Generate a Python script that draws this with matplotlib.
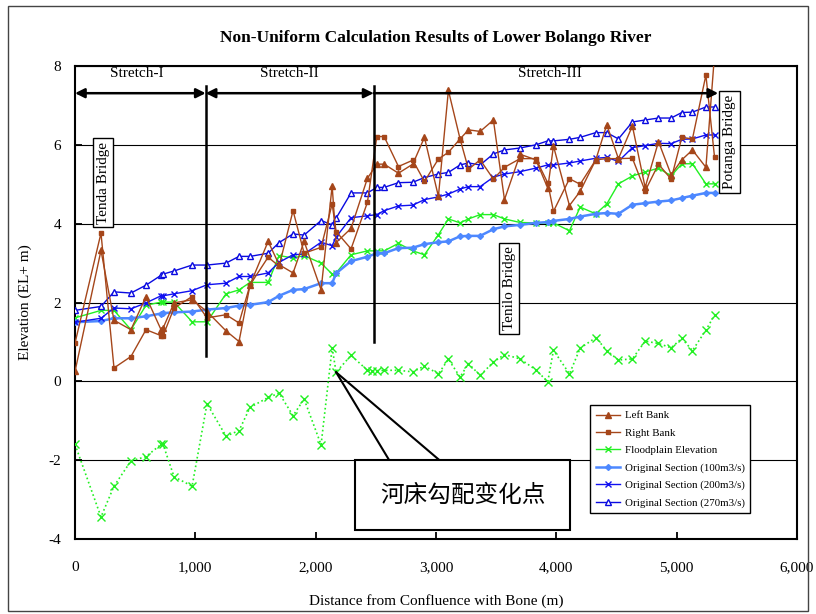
import matplotlib
matplotlib.use("Agg")
import matplotlib.pyplot as plt
from matplotlib.patches import Rectangle
from matplotlib.ticker import FuncFormatter
import numpy as np

plt.rcParams['font.family'] = ['Liberation Serif', 'DejaVu Serif']
plt.rcParams['axes.unicode_minus'] = False

# cross-section distances (m)
dist = [0, 216, 324, 465, 590, 715, 732, 823, 973, 1097,
        1255, 1363, 1455, 1605, 1696, 1812, 1904, 2045, 2137, 2170,
        2294, 2430, 2508, 2569, 2688, 2807, 2904, 3020, 3103, 3200,
        3270, 3367, 3477, 3569, 3699, 3830, 3929, 3976, 4109, 4198,
        4328, 4419, 4516, 4632, 4738, 4849, 4954, 5043, 5131, 5243,
        5315]

left_bank = [0.25, 3.32, 1.55, 1.31, 2.15, 1.31, 1.35, 1.99, 2.07, 1.77,
             1.28, 1.01, 2.45, 3.55, 2.96, 2.75, 3.55, 2.32, 4.96, 3.52,
             3.88, 5.15, 5.51, 5.51, 5.28, 5.51, 6.19, 4.69, 7.38, 6.15,
             6.38, 6.34, 6.63, 4.61, 5.76, 5.62, 4.90, 5.97, 4.46, 4.82,
             5.62, 6.51, 5.65, 6.48, 4.92, 6.08, 5.24, 5.62, 5.87, 5.43,
             8.30]

right_bank = [0.97, 3.76, 0.34, 0.63, 1.31, 1.16, 1.16, 1.86, 2.15, 1.61,
              1.69, 1.48, 2.45, 3.15, 2.92, 4.33, 3.25, 3.40, 4.50, 3.80,
              3.36, 4.54, 6.21, 6.21, 5.45, 5.61, 5.07, 5.64, 5.81, 6.15,
              5.38, 5.62, 5.13, 5.43, 5.65, 5.65, 5.03, 4.31, 5.14, 5.00,
              5.62, 5.65, 5.65, 5.66, 4.83, 5.51, 5.13, 6.19, 6.15, 7.77,
              5.68]

floodplain = [1.61, 1.80, 1.80, 1.31, 1.93, 2.01, 2.01, 2.01, 1.51, 1.51,
              2.22, 2.32, 2.51, 2.51, 3.19, 3.13, 3.19, 3.00, 2.72, 2.75,
              3.21, 3.31, 3.31, 3.31, 3.50, 3.31, 3.21, 3.72, 4.12, 4.02,
              4.12, 4.23, 4.23, 4.12, 4.03, 4.02, 4.02, 4.02, 3.82, 4.42,
              4.25, 4.50, 5.01, 5.21, 5.31, 5.41, 5.21, 5.52, 5.52, 5.01,
              5.01]

q100 = [1.50, 1.53, 1.60, 1.60, 1.65, 1.72, 1.73, 1.75, 1.77, 1.82,
        1.86, 1.92, 1.94, 2.01, 2.17, 2.32, 2.34, 2.49, 2.49, 2.74,
        3.05, 3.16, 3.25, 3.25, 3.38, 3.39, 3.48, 3.53, 3.55, 3.68,
        3.69, 3.69, 3.86, 3.93, 3.97, 4.02, 4.04, 4.07, 4.12, 4.18,
        4.25, 4.27, 4.25, 4.48, 4.52, 4.56, 4.59, 4.65, 4.71, 4.78,
        4.78]

q200 = [1.50, 1.60, 1.86, 1.84, 1.99, 2.17, 2.17, 2.22, 2.30, 2.45,
        2.49, 2.66, 2.66, 2.75, 3.02, 3.21, 3.23, 3.53, 3.44, 3.66,
        4.15, 4.20, 4.23, 4.33, 4.45, 4.47, 4.61, 4.68, 4.75, 4.88,
        4.94, 4.94, 5.18, 5.26, 5.32, 5.41, 5.49, 5.49, 5.54, 5.59,
        5.66, 5.68, 5.58, 5.93, 5.98, 6.04, 6.03, 6.14, 6.15, 6.25,
        6.25]

q270 = [1.80, 1.90, 2.27, 2.24, 2.44, 2.69, 2.72, 2.80, 2.95, 2.95,
        3.00, 3.17, 3.17, 3.25, 3.52, 3.74, 3.71, 4.08, 3.97, 4.14,
        4.78, 4.78, 4.92, 4.92, 5.04, 5.05, 5.17, 5.26, 5.30, 5.49,
        5.54, 5.49, 5.77, 5.87, 5.92, 6.00, 6.10, 6.10, 6.14, 6.19,
        6.31, 6.31, 6.15, 6.58, 6.63, 6.68, 6.68, 6.82, 6.83, 6.96,
        6.96]

# river bed (dotted, not in legend)
bed_dist = [0, 216, 324, 465, 590, 715, 732, 823, 973, 1097,
            1255, 1363, 1455, 1605, 1696, 1812, 1904, 2045, 2137, 2170,
            2294, 2430, 2466, 2508, 2569, 2688, 2807, 2904, 3020, 3103,
            3200, 3270, 3367, 3477, 3569, 3699, 3830, 3929, 3976, 4109,
            4198, 4328, 4419, 4516, 4632, 4738, 4849, 4954, 5043, 5131,
            5243, 5315]
bed = [-1.60, -3.44, -2.66, -2.02, -1.91, -1.60, -1.60, -2.42, -2.66, -0.57,
       -1.39, -1.25, -0.66, -0.41, -0.30, -0.87, -0.45, -1.61, 0.85, 0.23,
       0.66, 0.28, 0.26, 0.27, 0.28, 0.28, 0.24, 0.39, 0.19, 0.56,
       0.11, 0.45, 0.15, 0.49, 0.68, 0.57, 0.29, -0.01, 0.79, 0.19,
       0.84, 1.11, 0.78, 0.54, 0.57, 1.02, 0.96, 0.85, 1.09, 0.78,
       1.30, 1.68]

stretch_bounds = [0, 1086, 2481, 5345]
stretch_names = ["Stretch-I", "Stretch-II", "Stretch-III"]
stretch_bottom = [0.65, 1.0]

brown = '#A5461A'
green = '#22F022'

fig = plt.figure(figsize=(8.16, 6.14), dpi=100)
ax = fig.add_axes([75 / 816, 75 / 614, 722 / 816, 473 / 614])

ax.plot(bed_dist, bed, color=green, ls=':', lw=1.2, marker='x', ms=6, mew=1.0, zorder=3)
ax.plot(dist, left_bank, color=brown, lw=1.0, marker='^', ms=4, label='Left Bank', zorder=5)
ax.plot(dist, right_bank, color=brown, lw=1.0, marker='s', ms=3.5, label='Right Bank', zorder=5)
ax.plot(dist, floodplain, color=green, lw=1.0, marker='x', ms=5, mew=1.0,
        label='Floodplain Elevation', zorder=4)
ax.plot(dist, q100, color='#4D88FF', lw=1.8, marker='D', ms=3, label='Original Section (100m3/s)', zorder=4)
ax.plot(dist, q200, color='#1010F0', lw=1.0, marker='x', ms=4.5, mew=1.0,
        label='Original Section (200m3/s)', zorder=4)
ax.plot(dist, q270, color='#0A0AE0', lw=1.0, marker='^', ms=4.5, mfc='white',
        label='Original Section (270m3/s)', zorder=4)

ax.set_xlim(0, 6000)
ax.set_ylim(-4, 8)
ax.set_xticks(range(0, 6001, 1000))
ax.set_yticks(range(-4, 9, 2))
ax.xaxis.set_major_formatter(FuncFormatter(lambda v, p: f"{int(v):,}"))
ax.tick_params(direction='in', length=5, width=1.3, labelsize=11)
ax.tick_params(axis='x', pad=16)
ax.tick_params(axis='y', pad=10)
ax.grid(axis='y', color='black', lw=0.8)
ax.set_axisbelow(True)
for s in ax.spines.values():
    s.set_linewidth(1.5)

ax.set_title("Non-Uniform Calculation Results of Lower Bolango River",
             fontsize=12.5, fontweight='bold', pad=17)
ax.set_xlabel("Distance from Confluence with Bone (m)", fontsize=11, labelpad=14)
ax.set_ylabel("Elevation (EL+ m)", fontsize=11, labelpad=12)

# stretch boundaries and arrows
arrow_y = 7.31
for xb, yb in zip(stretch_bounds[1:3], stretch_bottom):
    ax.plot([xb, xb], [7.5, yb], color='black', lw=1.8, zorder=6)
for i, name in enumerate(stretch_names):
    a, b = stretch_bounds[i], stretch_bounds[i + 1]
    style = '<|-|>' if i < 2 else '<|-'
    ax.annotate('', xy=(a, arrow_y), xytext=(b, arrow_y),
                arrowprops=dict(arrowstyle=style, color='black', lw=1.8,
                                mutation_scale=14, shrinkA=0, shrinkB=0), zorder=6)
    ax.text((a + b) / 2 - (30 if i == 0 else 0) + (30 if i == 2 else 0), 7.82, name,
            ha='center', va='center', fontsize=11)

# bridge labels
box = dict(boxstyle='square,pad=0.25', fc='white', ec='black', lw=1.0)
ax.text(233, 5.04, "Tenda Bridge", rotation=90, ha='center', va='center', fontsize=11, bbox=box, zorder=7)
ax.text(3607, 2.36, "Tenilo Bridge", rotation=90, ha='center', va='center', fontsize=11, bbox=box, zorder=7)
ax.text(5440, 6.07, "Potanga Bridge", rotation=90, ha='center', va='center', fontsize=11, bbox=box, zorder=7)

# callout for bed slope change point
tip_x = bed_dist[19]
tip_y = bed[19]
ax.plot([tip_x, 2609], [tip_y, -1.99], color='black', lw=1.5, zorder=7)
ax.plot([tip_x, 3025], [tip_y, -1.99], color='black', lw=1.5, zorder=7)
ax.add_patch(Rectangle((2328, -3.78), 4115 - 2328, 1.79, fc='white', ec='black', lw=1.5, zorder=7))
ax.text((2328 + 4115) / 2, -2.885, "河床勾配变化点", ha='center', va='center', fontsize=17,
        family=['Noto Sans CJK SC', 'DejaVu Sans'], zorder=8)

leg = ax.legend(loc='upper left', bbox_to_anchor=(0.706, 0.294), fontsize=7.8, frameon=True,
                fancybox=False, edgecolor='black', framealpha=1, handlelength=2.3,
                labelspacing=0.72, borderpad=0.5, handletextpad=0.4)
leg.get_frame().set_linewidth(1.0)
leg.set_zorder(9)

fig.patches.append(Rectangle((8 / 816, 3 / 614), 800 / 816, 605 / 614, transform=fig.transFigure,
                             fill=False, ec='#444444', lw=1.0))

fig.savefig("out.png", dpi=100)
